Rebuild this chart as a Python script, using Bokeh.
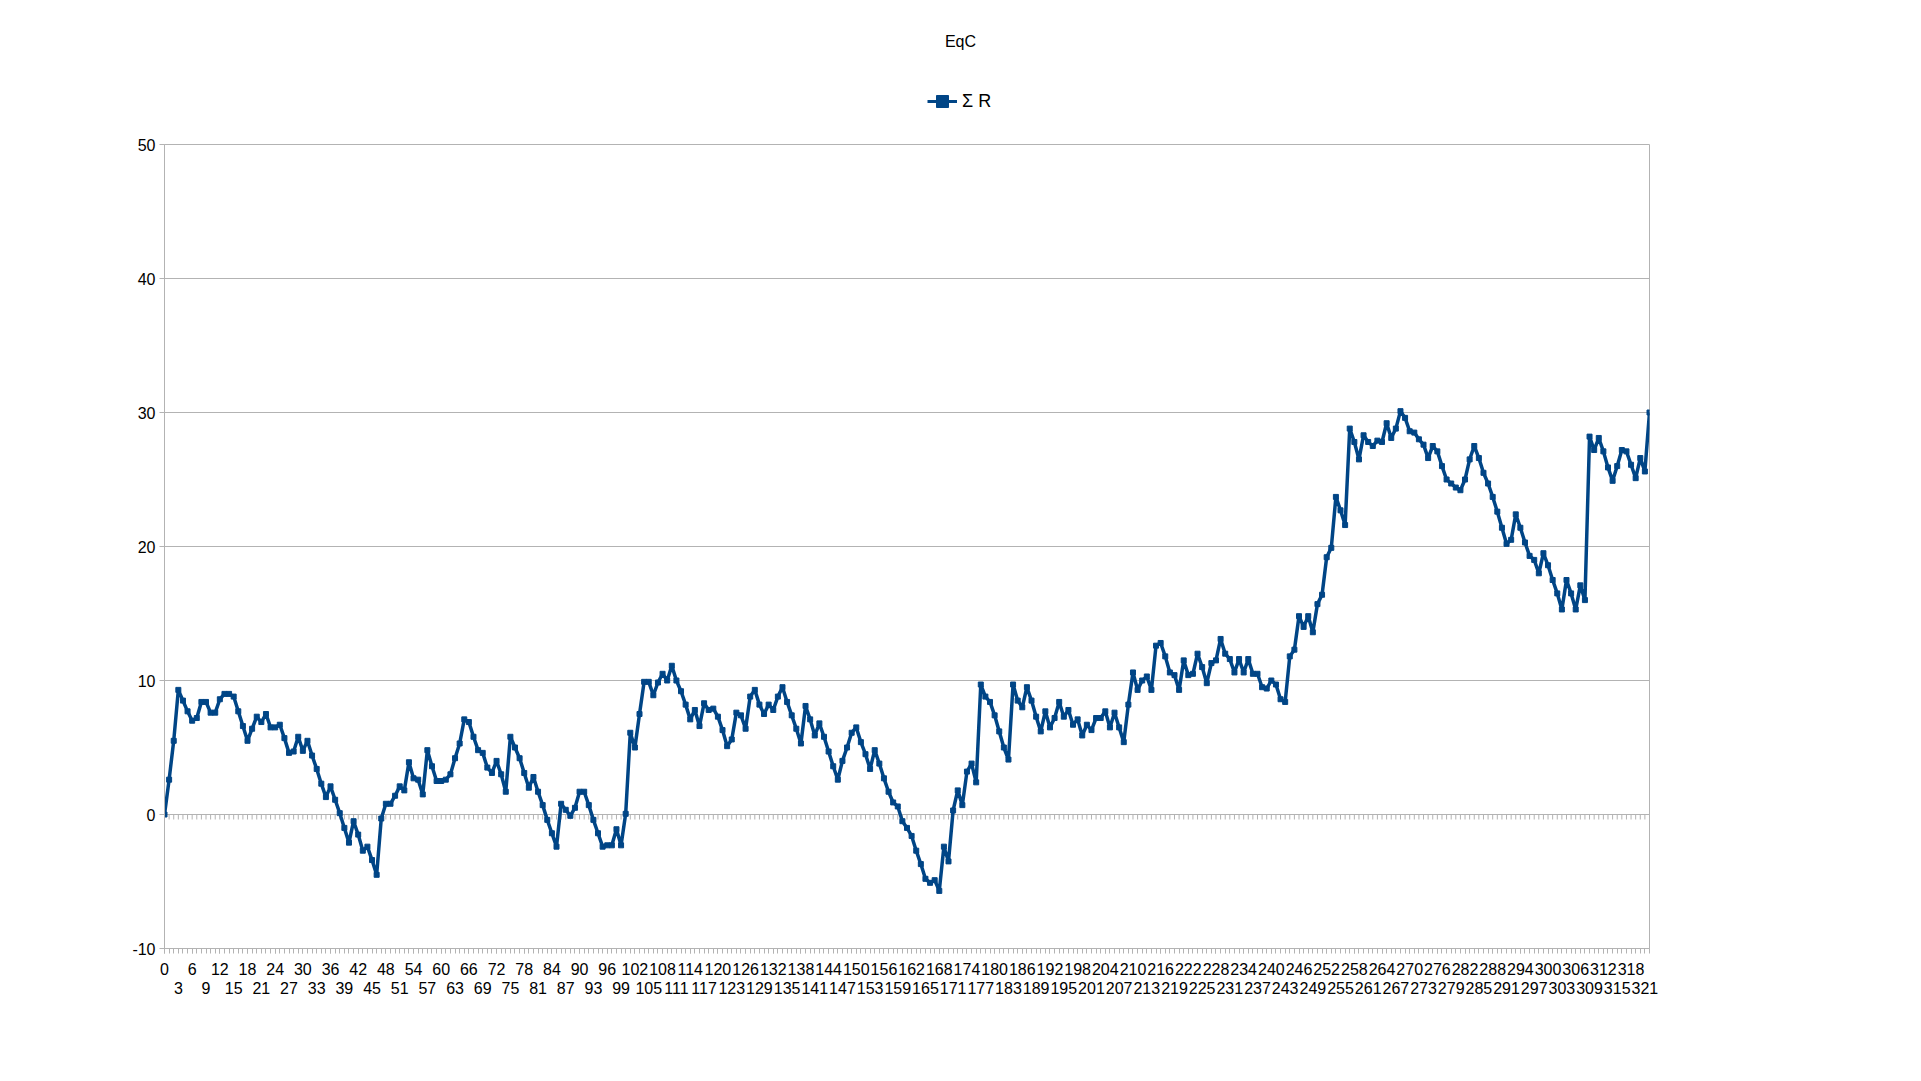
from bokeh.plotting import figure
from bokeh.layouts import column
from bokeh.models import (Range1d, FixedTicker, LinearAxis, Legend, LegendItem,
                          ColumnDataSource, Label)
from bokeh.embed import file_html
from bokeh.resources import INLINE

title_text = "EqC"
series_name = "Σ R"

values = [
    0, 2.6, 5.5, 9.3, 8.5, 7.7, 7.0, 7.2, 8.4, 8.4,
    7.6, 7.6, 8.6, 9.0, 9.0, 8.8, 7.7, 6.6, 5.5, 6.4,
    7.3, 6.9, 7.5, 6.5, 6.5, 6.7, 5.7, 4.6, 4.7, 5.8,
    4.75, 5.5, 4.4, 3.4, 2.3, 1.3, 2.1, 1.1, 0.1, -1.0,
    -2.1, -0.5, -1.5, -2.7, -2.4, -3.4, -4.5, -0.3, 0.8, 0.8,
    1.4, 2.1, 1.8, 3.9, 2.7, 2.6, 1.5, 4.8, 3.6, 2.5,
    2.5, 2.6, 3.0, 4.2, 5.3, 7.1, 6.9, 5.8, 4.8, 4.6,
    3.5, 3.1, 4.0, 3.0, 1.7, 5.8, 5.0, 4.2, 3.1, 2.0,
    2.8, 1.7, 0.7, -0.4, -1.4, -2.4, 0.8, 0.35, -0.1, 0.5,
    1.7, 1.7, 0.7, -0.4, -1.4, -2.4, -2.3, -2.3, -1.1, -2.3,
    0.05, 6.1, 5.0, 7.5, 9.9, 9.9, 8.9, 9.85, 10.5, 10.0,
    11.1, 10.0, 9.2, 8.2, 7.1, 7.8, 6.6, 8.3, 7.8, 7.9,
    7.3, 6.3, 5.1, 5.6, 7.6, 7.4, 6.4, 8.8, 9.3, 8.2,
    7.5, 8.2, 7.8, 8.8, 9.5, 8.4, 7.4, 6.4, 5.3, 8.1,
    7.1, 5.9, 6.8, 5.8, 4.7, 3.6, 2.6, 4.0, 5.0, 6.1,
    6.5, 5.4, 4.5, 3.4, 4.8, 3.8, 2.7, 1.7, 0.9, 0.6,
    -0.5, -1.0, -1.6, -2.7, -3.7, -4.8, -5.1, -4.9, -5.7, -2.4,
    -3.5, 0.3, 1.8, 0.7, 3.2, 3.8,
    2.4, 9.7, 8.8, 8.4, 7.4, 6.2, 5.0, 4.1,
    9.7, 8.5, 8.0, 9.5, 8.5, 7.3, 6.2, 7.7, 6.5, 7.2,
    8.4, 7.3, 7.8, 6.7, 7.1, 5.9, 6.7, 6.3, 7.2, 7.2,
    7.7, 6.5, 7.6, 6.5, 5.4, 8.2, 10.6, 9.3, 10.0, 10.3,
    9.3, 12.6, 12.8, 11.8, 10.6, 10.4, 9.3, 11.5, 10.4, 10.5,
    12.0, 11.0, 9.8, 11.3, 11.5, 13.1, 12.0, 11.6, 10.6, 11.6,
    10.6, 11.6, 10.5, 10.5, 9.5, 9.4, 10.0, 9.7, 8.6, 8.4,
    11.8, 12.3, 14.8, 14.0, 14.8, 13.6, 15.7, 16.4, 19.2, 19.9,
    23.7, 22.7, 21.6, 28.8, 27.8, 26.5, 28.3, 27.8, 27.5, 27.9,
    27.8, 29.2, 28.1, 28.8, 30.1, 29.6, 28.6, 28.5, 28.0, 27.6,
    26.6, 27.5, 27.1, 26.0, 25.0, 24.7, 24.4, 24.2, 25.0, 26.5,
    27.5, 26.6, 25.5,
    24.7, 23.7, 22.6, 21.4, 20.2,
    20.5, 22.4, 21.4, 20.3, 19.3, 19.0, 18.0, 19.5, 18.6, 17.5,
    16.5, 15.3, 17.5, 16.5, 15.3, 17.1, 16.0,
    28.2, 27.2, 28.1, 27.1, 25.9, 24.9, 26.0, 27.2, 27.1, 26.1,
    25.1, 26.6, 25.6, 30.0,
]
categories = list(range(len(values)))

x_labels_row1 = [str(c) for c in categories if c % 6 == 0]
x_labels_row2 = [str(c) for c in categories if c % 6 == 3]
y_ticks = [-10, 0, 10, 20, 30, 40, 50]
y_tick_labels = ["-10", "0", "10", "20", "30", "40", "50"]

FONT = "Liberation Sans"
GRID = "#b3b3b3"
BLUE = "#004586"

TOTAL_W = 1913
LEFT = 164
FRAME_W = 1485
HEADER_H = 134
frame_h = 804
y_min, y_max = y_ticks[0], y_ticks[-1]
tick_len_data = 5 * (y_max - y_min) / frame_h

# ---------------- header (title + legend) ----------------
header = figure(width=TOTAL_W, height=HEADER_H,
                x_range=Range1d(0, TOTAL_W), y_range=Range1d(0, HEADER_H),
                x_axis_type=None, y_axis_type=None, min_border=0,
                title=None, output_backend="svg", toolbar_location=None,
                outline_line_color=None,
                background_fill_color="white", border_fill_color="white")

# the header frame is aligned with the chart frame (starts at LEFT)
header.add_layout(Label(x=960 - LEFT, y=HEADER_H - 41,
                        x_units="screen", y_units="screen",
                        text=title_text, text_align="center",
                        text_baseline="middle", text_font=FONT,
                        text_font_size="16px", text_color="black"))

nan = float("nan")
h_line = header.line(x=[nan], y=[nan], line_color=BLUE, line_width=3)
h_mark = header.scatter(x=[nan], y=[nan], marker="square",
                        fill_color=BLUE, line_color=BLUE)
legend = Legend(items=[LegendItem(label=series_name, renderers=[h_line, h_mark])],
                location=(927 - LEFT, 18), orientation="horizontal",
                label_text_font=FONT, label_text_font_size="18px",
                label_text_color="black",
                glyph_width=30, glyph_height=30, padding=0, spacing=0,
                margin=0, label_standoff=5,
                border_line_color=None, background_fill_alpha=0)
header.add_layout(legend)

# ---------------- main chart ----------------
p = figure(frame_width=FRAME_W, frame_height=frame_h,
           min_border_left=LEFT, min_border_right=TOTAL_W - LEFT - FRAME_W,
           min_border_top=10, min_border_bottom=125,
           x_range=Range1d(categories[0], categories[-1]),
           y_range=Range1d(y_min, y_max),
           title=None,
           output_backend="svg", toolbar_location=None,
           background_fill_color="white", border_fill_color="white")

p.outline_line_color = GRID
p.outline_line_width = 1

ya = p.yaxis[0]
ya.ticker = FixedTicker(ticks=y_ticks, minor_ticks=[])
ya.major_label_overrides = {t: l for t, l in zip(y_ticks, y_tick_labels)}
ya.major_tick_out = 5
ya.major_tick_in = 0
ya.major_tick_line_color = GRID
ya.axis_line_color = GRID
ya.major_label_text_font = FONT
ya.major_label_text_font_size = "16px"
ya.major_label_text_color = "black"
ya.major_label_standoff = 4

p.ygrid.ticker = FixedTicker(ticks=y_ticks[1:], minor_ticks=[])
p.ygrid.grid_line_color = GRID
p.xgrid.visible = False

row1_ticks = [c for c in categories if c % 6 == 0]
row2_ticks = [c for c in categories if c % 6 == 3]
xa = p.xaxis[0]
xa.ticker = FixedTicker(ticks=row1_ticks, minor_ticks=categories)
xa.major_label_overrides = {t: l for t, l in zip(row1_ticks, x_labels_row1)}
xa.major_tick_out = 5
xa.major_tick_in = 0
xa.minor_tick_out = 5
xa.minor_tick_in = 0
xa.major_tick_line_color = GRID
xa.minor_tick_line_color = GRID
xa.axis_line_color = GRID
xa.major_label_text_font = FONT
xa.major_label_text_font_size = "16px"
xa.major_label_text_color = "black"
xa.major_label_standoff = 9

xa2 = LinearAxis(ticker=FixedTicker(ticks=row2_ticks, minor_ticks=[]))
xa2.major_label_overrides = {t: l for t, l in zip(row2_ticks, x_labels_row2)}
xa2.axis_line_color = None
xa2.major_tick_line_color = None
xa2.minor_tick_line_color = None
xa2.major_tick_out = 0
xa2.major_tick_in = 0
xa2.major_label_text_font = FONT
xa2.major_label_text_font_size = "16px"
xa2.major_label_text_color = "black"
xa2.major_label_standoff = 4
p.add_layout(xa2, "below")

# small ticks hanging on the zero line
src_ticks = ColumnDataSource(dict(x=categories,
                                  y0=[0] * len(categories),
                                  y1=[-tick_len_data] * len(categories)))
p.segment(x0="x", y0="y0", x1="x", y1="y1", source=src_ticks,
          line_color=GRID, line_width=1)

src = ColumnDataSource(dict(x=categories, y=values))
p.line("x", "y", source=src, line_color=BLUE, line_width=3.5)
p.scatter("x", "y", source=src, marker="square", size=5,
          fill_color=BLUE, line_color=BLUE)

layout = column(header, p, spacing=0)
open("out.html", "w").write(file_html(layout, INLINE))
